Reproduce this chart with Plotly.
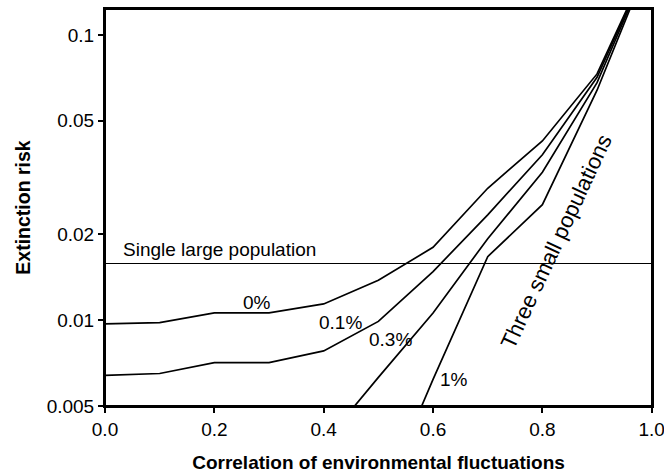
import math
import plotly.graph_objects as go

# ---- data ----
correlation = [0.0, 0.1, 0.2, 0.3, 0.4, 0.5, 0.6, 0.7, 0.8, 0.9, 1.0]
risk_0pct = [0.0097, 0.0098, 0.0106, 0.0106, 0.0114, 0.0138, 0.0180, 0.0290, 0.0425, 0.073, 0.19]
risk_01pct = [0.0064, 0.0065, 0.0071, 0.0071, 0.0078, 0.0099, 0.0148, 0.0234, 0.0380, 0.071, 0.19]
risk_03pct = [None, None, None, None, 0.0037, 0.0063, 0.0106, 0.0193, 0.0330, 0.068, 0.19]
risk_1pct = [None, None, None, None, None, 0.0022, 0.0062, 0.0167, 0.0254, 0.064, 0.19]
single_large_risk = 0.0158

series_labels = ["0%", "0.1%", "0.3%", "1%"]
x_ticks = [0.0, 0.2, 0.4, 0.6, 0.8, 1.0]
x_ticktext = ["0.0", "0.2", "0.4", "0.6", "0.8", "1.0"]
y_ticks = [0.005, 0.01, 0.02, 0.05, 0.1]
y_ticktext = ["0.005", "0.01", "0.02", "0.05", "0.1"]

FONT = "Liberation Sans, Arial, Helvetica, sans-serif"

fig = go.Figure()
for vals in [risk_0pct, risk_01pct, risk_03pct, risk_1pct]:
    fig.add_trace(go.Scatter(x=correlation, y=vals, mode="lines",
                             line=dict(color="black", width=1.7),
                             connectgaps=False, showlegend=False,
                             hoverinfo="skip"))
fig.add_trace(go.Scatter(x=[correlation[0], correlation[-1]],
                         y=[single_large_risk, single_large_risk],
                         mode="lines", line=dict(color="black", width=1.2),
                         showlegend=False, hoverinfo="skip"))

label_pos = [(0.278, 0.01156), (0.431, 0.0098), (0.523, 0.00857), (0.638, 0.0062)]
annotations = []
for lab, (ax, ay) in zip(series_labels, label_pos):
    annotations.append(dict(x=ax, y=math.log10(ay), xref="x", yref="y", text=lab,
                            showarrow=False, font=dict(size=19, color="black", family=FONT)))
annotations.append(dict(x=0.029, y=math.log10(0.01775), xref="x", yref="y",
                        text="Single large population", xanchor="left",
                        showarrow=False, font=dict(size=19, color="black", family=FONT)))
annotations.append(dict(x=0.826, y=math.log10(0.0188), xref="x", yref="y",
                        text="Three small populations", textangle=-65,
                        showarrow=False, font=dict(size=22, color="black", family=FONT)))

fig.update_layout(
    template="none",
    width=664, height=473,
    margin=dict(l=105, r=12, t=9, b=67, autoexpand=False),
    paper_bgcolor="white", plot_bgcolor="white",
    font=dict(family=FONT, size=19, color="black"),
    annotations=annotations,
    shapes=[dict(type="rect", xref="paper", yref="paper", x0=0, x1=1, y0=0, y1=1,
                 line=dict(color="black", width=2), fillcolor="rgba(0,0,0,0)",
                 layer="above")],
)
fig.update_xaxes(range=[0, 1.0005], tickvals=x_ticks, ticktext=x_ticktext,
                 ticks="outside", ticklen=5, tickwidth=1.5, tickcolor="black",
                 showline=True, linecolor="black", linewidth=2, mirror=True,
                 showgrid=False, zeroline=False, automargin=False,
                 ticklabeloverflow="allow",
                 title=dict(text="<b>Correlation of environmental fluctuations</b>",
                            font=dict(size=19, family=FONT), standoff=22),
                 tickfont=dict(size=19, family=FONT))
fig.update_yaxes(type="log", range=[math.log10(0.005), math.log10(0.1233)],
                 tickvals=y_ticks, ticktext=y_ticktext,
                 ticks="outside", ticklen=5, tickwidth=1.5, tickcolor="black",
                 showline=True, linecolor="black", linewidth=2, mirror=True,
                 showgrid=False, zeroline=False, automargin=False,
                 ticklabeloverflow="allow",
                 title=dict(text="<b>Extinction risk</b>",
                            font=dict(size=19.5, family=FONT), standoff=11),
                 tickfont=dict(size=19, family=FONT))

# remove the browser's default 8px body margin so the figure fills the window exactly
fig.write_html("out.html", config={"displayModeBar": False},
               post_script="document.body.style.margin='0';document.body.style.overflow='hidden';")
